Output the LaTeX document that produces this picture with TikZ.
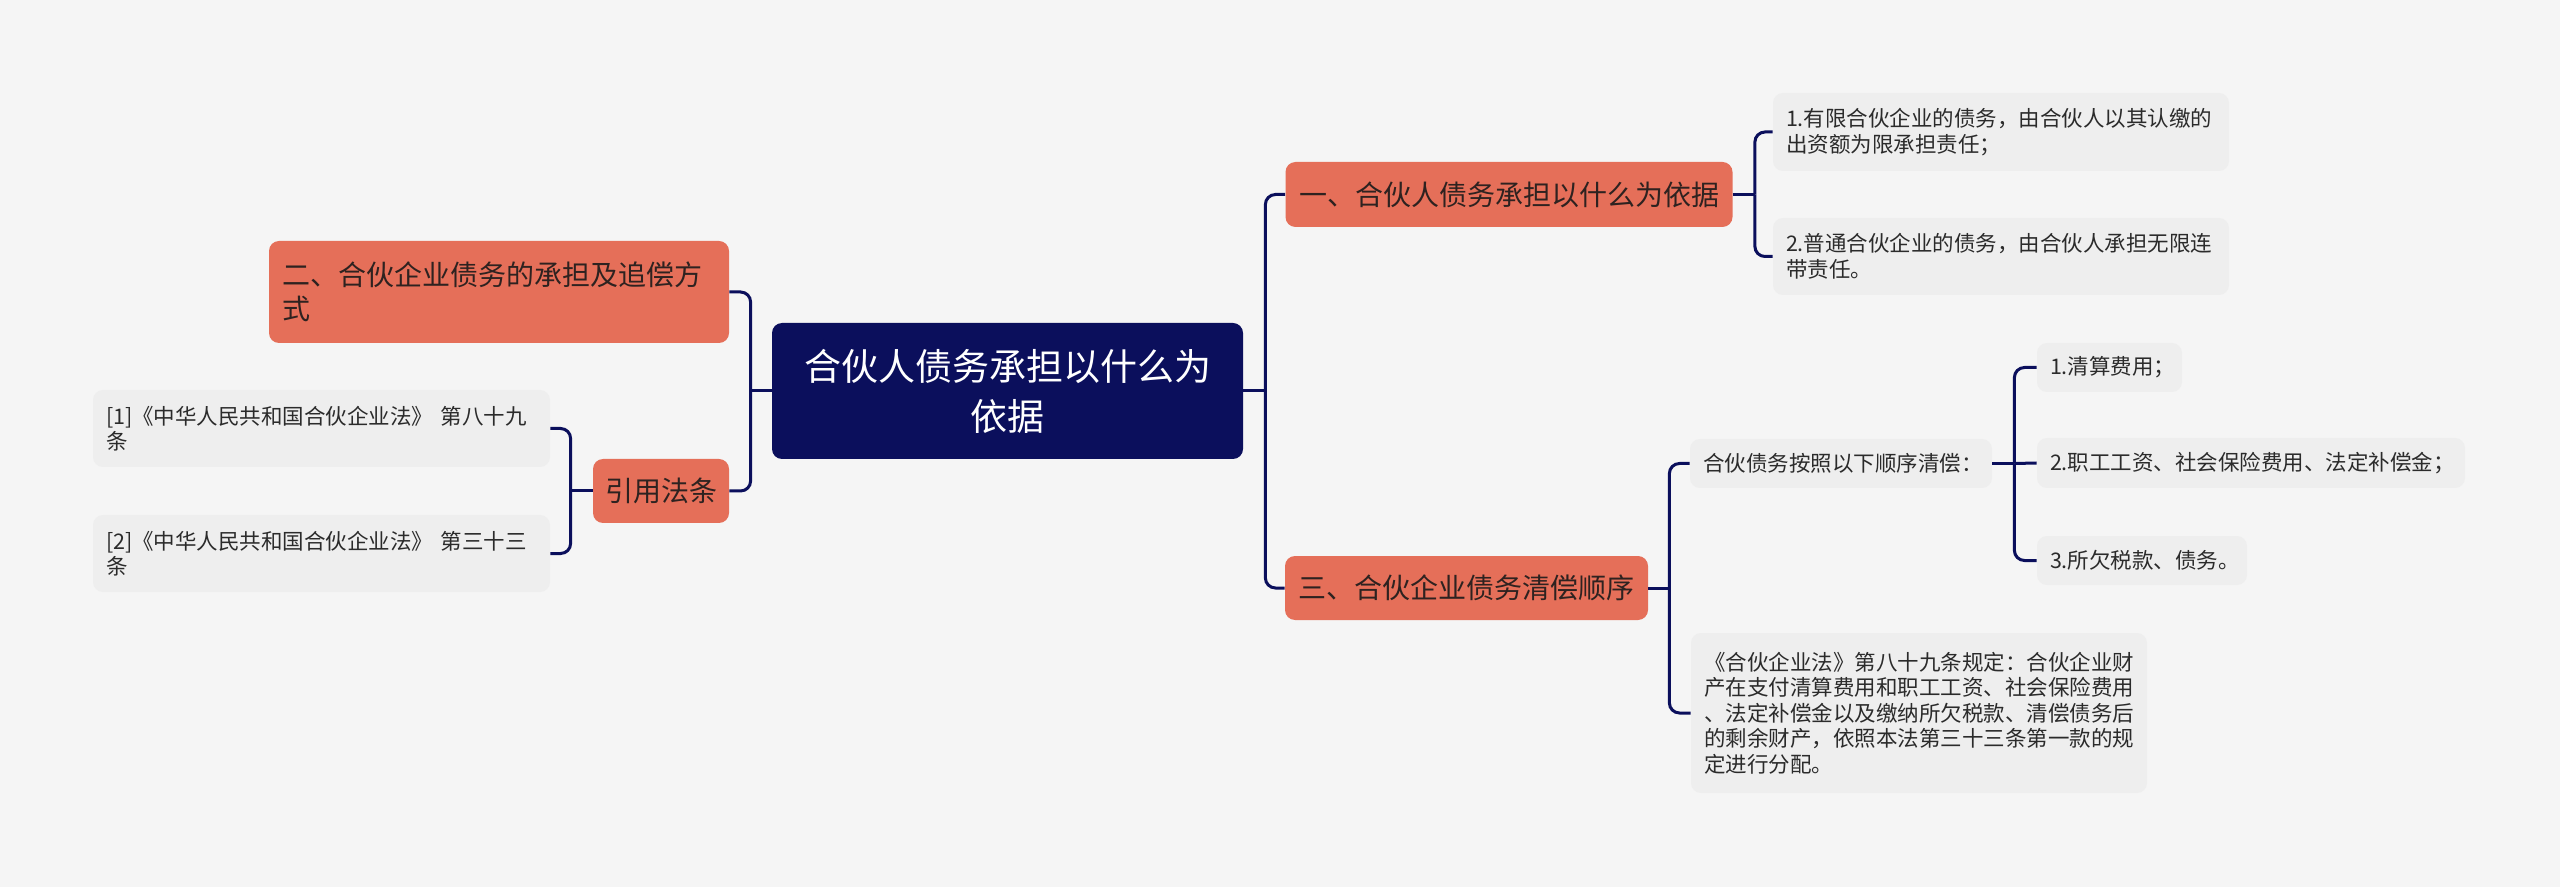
\documentclass[tikz,border=0pt]{standalone}
\usepackage{fontspec}
\setmainfont{Noto Sans CJK SC}
\usetikzlibrary{calc}
\definecolor{bgc}{HTML}{F5F5F5}
\definecolor{navy}{HTML}{0B0F5C}
\definecolor{salmon}{HTML}{E56F59}
\definecolor{leafc}{HTML}{EEEEEE}
\definecolor{inkc}{HTML}{2B2B2B}
\definecolor{inkm}{HTML}{2E2220}
\begin{document}
\begin{tikzpicture}[x=0.5pt,y=-0.5pt,
  conn/.style={draw=navy,line width=1.5pt,rounded corners=5pt},
  rootbox/.style={fill=navy,text=white,rounded corners=5pt,inner sep=0pt,align=center,
    font=\fontsize{18.5pt}{25pt}\selectfont},
  mainbox/.style={fill=salmon,text=inkm,rounded corners=5pt,inner sep=0pt,align=center,
    font=\fontsize{14pt}{17pt}\selectfont},
  mainleft/.style={fill=salmon,text=inkm,rounded corners=5pt,inner xsep=6.5pt,inner ysep=0pt,align=left,
    font=\fontsize{14pt}{17pt}\selectfont},
  leafbox/.style={fill=leafc,text=inkc,rounded corners=5pt,inner xsep=6.5pt,inner ysep=0pt,align=left,
    font=\fontsize{10.75pt}{12.75pt}\selectfont},
]
\fill[bgc] (0,0) rectangle (2560,887);
\useasboundingbox (0,0) rectangle (2560,887);

% root
\node[rootbox,minimum width=235.5pt,minimum height=68pt] (root) at (1007.5,391)
  {合伙人债务承担以什么为\\依据};

% left side
\node[mainleft,text width=217pt,minimum height=51pt] (n2) at (499,292)
  {二、合伙企业债务的承担及追偿方\\式};
\node[mainbox,minimum width=68pt,minimum height=32pt] (cite) at (661,491) {引用法条};
\node[leafbox,text width=215.5pt,minimum height=38.5pt] (r1) at (321.5,428.5)
  {[1]《中华人民共和国合伙企业法》 第八十九\\条};
\node[leafbox,text width=215.5pt,minimum height=38.5pt] (r2) at (321.5,553.5)
  {[2]《中华人民共和国合伙企业法》 第三十三\\条};

% right side
\node[mainbox,minimum width=223.5pt,minimum height=32.5pt] (n1) at (1509,194.5)
  {一、合伙人债务承担以什么为依据};
\node[leafbox,text width=215pt,minimum height=39pt] (a1) at (2001,132)
  {1.有限合伙企业的债务，由合伙人以其认缴的\\出资额为限承担责任；};
\node[leafbox,text width=215pt,minimum height=38.5pt] (a2) at (2001,256.5)
  {2.普通合伙企业的债务，由合伙人承担无限连\\带责任。};

\node[mainbox,minimum width=181.5pt,minimum height=32pt] (n3) at (1466.5,588)
  {三、合伙企业债务清偿顺序};
\node[leafbox,text width=138pt,minimum height=24.5pt] (b) at (1841,463.5)
  {合伙债务按照以下顺序清偿：};
\node[leafbox,text width=59.5pt,minimum height=24.5pt] (c1) at (2109.5,367.5)
  {1.清算费用；};
\node[leafbox,text width=201pt,minimum height=25pt] (c2) at (2251,463)
  {2.职工工资、社会保险费用、法定补偿金；};
\node[leafbox,text width=92pt,minimum height=24.5pt] (c3) at (2142,560.5)
  {3.所欠税款、债务。};
\node[leafbox,text width=215pt,minimum height=80pt] (d) at (1919,713)
  {《合伙企业法》第八十九条规定：合伙企业财\\产在支付清算费用和职工工资、社会保险费用\\、法定补偿金以及缴纳所欠税款、清偿债务后\\的剩余财产，依照本法第三十三条第一款的规\\定进行分配。};

% junctions
\coordinate (jL) at ($(root.west)+(-21,0)$);
\coordinate (jC) at ($(cite.west)+(-22,0)$);
\coordinate (jR) at ($(root.east)+(22,0)$);
\coordinate (j1) at ($(n1.east)+(22,0)$);
\coordinate (j3) at ($(n3.east)+(21,0)$);
\coordinate (jB) at ($(b.east)+(22,0)$);

% connectors
\draw[conn] (root.west) -- (jL);
\draw[conn] (jL) |- (n2.east);
\draw[conn] (jL) |- (cite.east);
\draw[conn] (cite.west) -- (jC);
\draw[conn] (jC) |- (r1.east);
\draw[conn] (jC) |- (r2.east);

\draw[conn] (root.east) -- (jR);
\draw[conn] (jR) |- (n1.west);
\draw[conn] (jR) |- (n3.west);
\draw[conn] (n1.east) -- (j1);
\draw[conn] (j1) |- (a1.west);
\draw[conn] (j1) |- (a2.west);
\draw[conn] (n3.east) -- (j3);
\draw[conn] (j3) |- (b.west);
\draw[conn] (j3) |- (d.west);
\draw[conn] (b.east) -- (jB);
\draw[conn] (jB) |- (c1.west);
\draw[conn] (jB) -- (c2.west);
\draw[conn] (jB) |- (c3.west);
\end{tikzpicture}
\end{document}
